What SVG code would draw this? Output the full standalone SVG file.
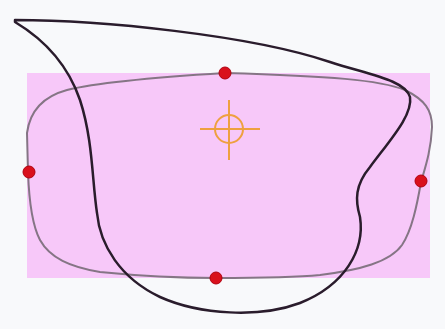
<svg xmlns="http://www.w3.org/2000/svg" width="445" height="329" viewBox="0 0 445 329">
  <style>
    .dot { fill: #d9101c; stroke: #b00010; stroke-width: 1; }
    .cross { stroke: #eea040; stroke-width: 2; fill: none; }
  </style>
  <rect width="445" height="329" fill="#f8f9fb"/>
  <rect id="frame" x="27" y="73" width="403" height="205" fill="#f7c8f9"/>
  <path id="smooth-curve" d="M225,73 C160,77 95,83 67,90 C45,96 30,110 27,133 L28,172 C29,200 32,225 40,240 C50,258 70,267 100,272 C140,276 180,278 216,278 C250,278 290,278 320,275 C360,270 390,262 402,245 C412,230 417,205 421,182 C426,165 431,150 432,127 C432,110 425,100 405,90 C380,80 330,76 225,73 Z" fill="none" stroke="#857585" stroke-width="2"/>
  <path id="freehand" d="M15,20 C100,20 250,35 330,62 C370,75 405,80 410,97 C413,115 390,140 370,167 C355,185 355,200 360,217 C365,250 345,285 300,303 C260,318 200,315 160,297 C120,278 100,245 97,213 C92,180 93,140 80,100 C68,65 45,40 15,22 Z" fill="none" stroke="#2a1c2c" stroke-width="2.5" stroke-linejoin="round"/>
  <g id="points">
    <circle class="dot" cx="225" cy="73" r="6"/>
    <circle class="dot" cx="29" cy="172" r="6"/>
    <circle class="dot" cx="421" cy="181" r="6"/>
    <circle class="dot" cx="216" cy="278" r="6"/>
  </g>
  <g id="crosshair" class="cross">
    <circle cx="229" cy="129" r="14"/>
    <line x1="200" y1="129" x2="260" y2="129"/>
    <line x1="229" y1="100" x2="229" y2="160"/>
  </g>
</svg>
